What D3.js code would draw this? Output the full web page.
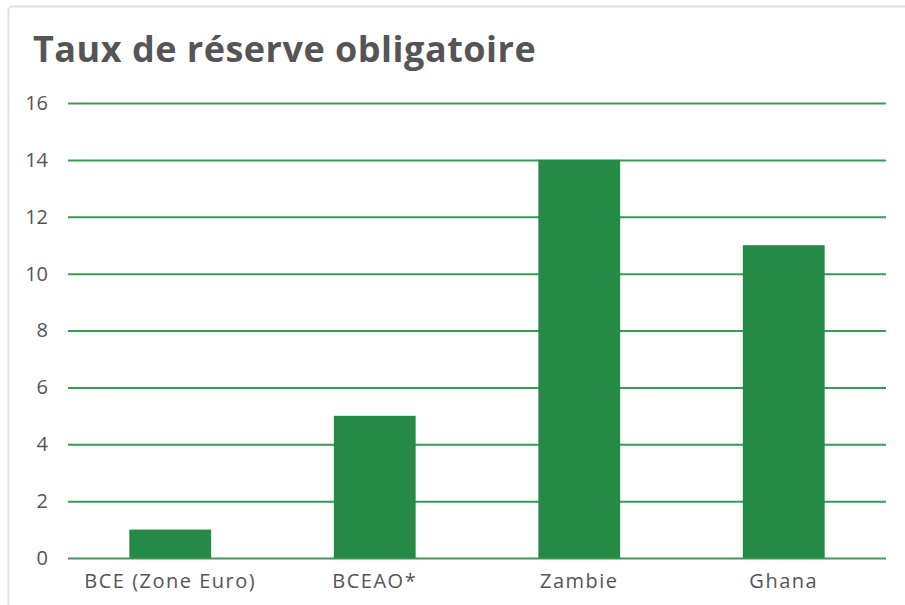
<!DOCTYPE html>
<html>
<head>
<meta charset="utf-8">
<script src="https://cdn.jsdelivr.net/npm/d3@7"></script>
<style>
  body { margin: 0; background: #fff; }
</style>
</head>
<body>
<div id="viz"></div>
<script>
// data
const categories = ["BCE (Zone Euro)", "BCEAO*", "Zambie", "Ghana"];
const values = [1, 5, 14, 11];
const yTicks = [0, 2, 4, 6, 8, 10, 12, 14, 16];

const width = 905
const height = 605
const margin = {left: 68, top: 103, right: 19, bottom: 47}

const g_width = width - margin.left - margin.right;
const g_height = height - margin.top - margin.bottom;

var svg = d3.select("#viz")
        .append("svg")
        .attr("width", width)
        .attr("height", height);

// card frame
svg.append("rect")
    .attr("x", 8.5)
    .attr("y", 6.5)
    .attr("width", width + 20)
    .attr("height", height + 20)
    .attr("rx", 4)
    .attr("fill", "#fff")
    .attr("stroke", "#e2e2e2")
    .attr("stroke-width", 2);

// title
svg.append("text")
    .attr("x", 33)
    .attr("y", 62)
    .attr("font-family", "Open Sans")
    .attr("font-weight", 700)
    .attr("font-size", 36)
    .attr("letter-spacing", 0.5)
    .attr("fill", "#555")
    .text("Taux de réserve obligatoire");

var g = svg.append("g")
        .attr("transform", "translate(" + margin.left + "," + margin.top + ")");

const x = d3.scaleBand().domain(categories).range([0, g_width]).paddingInner(0.6).paddingOuter(0.3);
const y = d3.scaleLinear().domain([0, 16]).range([g_height, 0]);

// grid lines and y labels
const y_axis = d3.axisLeft(y).tickValues(yTicks).tickSize(-g_width).tickPadding(20);
g.append("g")
    .attr("class", "yaxis")
    .call(y_axis)
    .call(a => a.select(".domain").remove())
    .call(a => a.selectAll("line").attr("stroke", "#3a9a55").attr("stroke-width", 2))
    .call(a => a.selectAll("text")
        .attr("font-family", "Open Sans")
        .attr("font-size", 20)
        .attr("fill", "#555"));

// bars
g.selectAll(".bar")
    .data(values)
    .enter()
    .append("rect")
    .attr("class", "bar")
    .attr("x", (d, i) => x(categories[i]))
    .attr("y", d => y(d))
    .attr("width", x.bandwidth())
    .attr("height", d => g_height - y(d))
    .attr("fill", "#268a47");

// x labels
const x_axis = d3.axisBottom(x).tickSize(0).tickPadding(16);
g.append("g")
    .attr("transform", "translate(0," + g_height + ")")
    .call(x_axis)
    .call(a => a.select(".domain").remove())
    .call(a => a.selectAll("text")
        .attr("font-family", "Open Sans")
        .attr("font-size", 20)
        .attr("letter-spacing", 1.5)
        .attr("fill", "#555"));
</script>
</body>
</html>
